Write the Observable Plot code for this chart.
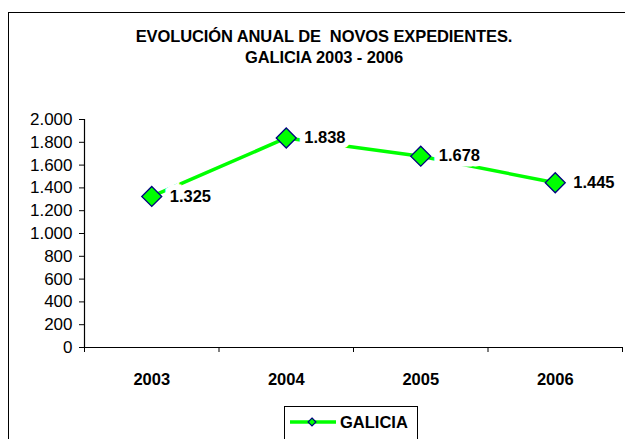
<!DOCTYPE html>
<html>
<head>
<meta charset="utf-8">
<script src="https://cdn.jsdelivr.net/npm/d3@7"></script>
<script src="https://cdn.jsdelivr.net/npm/@observablehq/plot@0.6"></script>
<style>
  html, body { margin: 0; padding: 0; background: #fff; }
  #page { position: relative; width: 625px; height: 439px; overflow: hidden; font-family: "Liberation Sans", Arial, sans-serif; }
  #frame { position: absolute; left: 8px; top: 12px; width: 700px; height: 500px; border: 1.5px solid #000; box-sizing: border-box; }
  #title { position: absolute; left: 0; width: 648px; top: 26px; text-align: center; font-weight: bold; font-size: 16.5px; line-height: 21px; color: #000; letter-spacing: -0.1px; }
  #chart { position: absolute; left: 0; top: 100px; }
  #legend { position: absolute; left: 284px; top: 406px; width: 134px; height: 60px; border: 1px solid #000; box-sizing: border-box; background: #fff; }
</style>
</head>
<body>
<div id="page">
  <div id="frame"></div>
  <div id="title">EVOLUCIÓN ANUAL DE&nbsp; NOVOS EXPEDIENTES.<br>GALICIA 2003 - 2006</div>
  <div id="chart"></div>
  <div id="legend"></div>
</div>
<script>
const years = ["2003", "2004", "2005", "2006"];
const values = [1325, 1838, 1678, 1445];
const labels = ["1.325", "1.838", "1.678", "1.445"];
const yTicks = [0, 200, 400, 600, 800, 1000, 1200, 1400, 1600, 1800, 2000];
const boundaryTicks = [0, 1, 2, 3, 4];
const seriesName = "GALICIA";

const data = years.map((y, i) => ({pos: i + 0.5, year: y, value: values[i], label: labels[i]}));
const fmt = d3.formatLocale({decimal: ",", thousands: ".", grouping: [3], currency: ["", "€"]}).format(",");

const green = "#00FF00";
const navy = "#000080";
const font = "Liberation Sans, Arial, sans-serif";

const plot = Plot.plot({
  width: 625,
  height: 300,
  marginLeft: 84,
  marginRight: 3,
  marginTop: 19,
  marginBottom: 53,
  style: {fontFamily: font, fontSize: "16px", color: "#000", background: "transparent", overflow: "visible"},
  x: {type: "linear", domain: [0, 4]},
  y: {domain: [0, 2000]},
  marks: [
    Plot.axisY({ticks: yTicks, tickFormat: fmt, tickSize: 5, tickPadding: 7, label: null, fontSize: 17, stroke: "#000"}),
    Plot.axisX({ticks: boundaryTicks, tickFormat: () => "", tickSize: 5, label: null, stroke: "#000"}),
    Plot.axisX({ticks: data.map(d => d.pos), tickFormat: (d, i) => years[i], tickSize: 0, tickPadding: 26, label: null, fontWeight: "bold", fontSize: 16.5}),
    Plot.ruleX([0], {stroke: "#000", strokeWidth: 1.2}),
    Plot.ruleY([0], {stroke: "#000", strokeWidth: 1.2}),
    Plot.line(data, {x: "pos", y: "value", stroke: green, strokeWidth: 3.5}),
    Plot.text(data, {x: "pos", y: "value", text: "label", dx: 18, textAnchor: "start", fontWeight: "bold", fontSize: 16.5, fill: "#000", stroke: "#fff", strokeWidth: 11, strokeLinejoin: "miter"}),
    Plot.dot(data, {x: "pos", y: "value", symbol: "diamond2", r: 9, fill: green, stroke: navy, strokeWidth: 1.3})
  ]
});
document.getElementById("chart").appendChild(plot);

// legend
const lg = d3.select("#legend").append("svg").attr("width", 134).attr("height", 40).style("position", "absolute").style("left", 0).style("top", 0);
lg.append("line").attr("x1", 5).attr("x2", 51).attr("y1", 15).attr("y2", 15).attr("stroke", green).attr("stroke-width", 3.5);
lg.append("path").attr("d", d3.symbol(d3.symbolDiamond2, 40)()).attr("transform", "translate(27,15)").attr("fill", green).attr("stroke", navy).attr("stroke-width", 1.2);
lg.append("text").attr("x", 55).attr("y", 15).attr("dy", "0.35em").attr("font-family", font).attr("font-weight", "bold").attr("font-size", 16.5).text(seriesName);
</script>
</body>
</html>
